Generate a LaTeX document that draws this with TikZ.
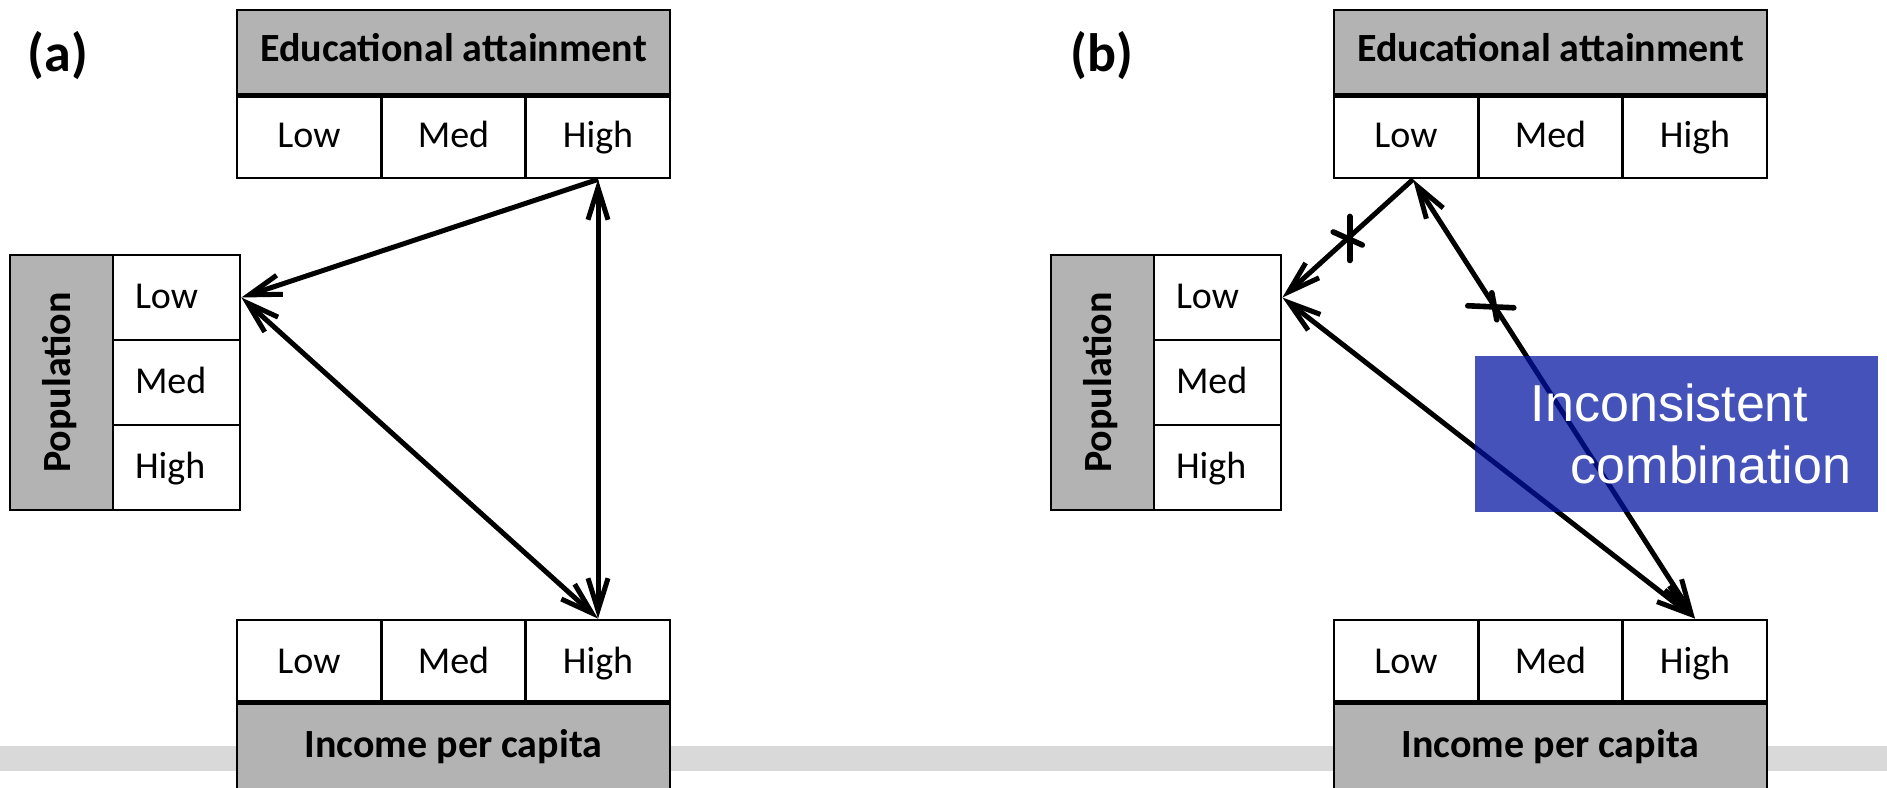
\documentclass[tikz,border=0pt]{standalone}
\usepackage{fontspec}
\setmainfont{Carlito}
\newfontfamily\boxfont{Liberation Sans}
\usetikzlibrary{arrows.meta}

\definecolor{headgray}{RGB}{179,179,179}
\definecolor{bargray}{RGB}{217,217,217}
\definecolor{boxblue}{RGB}{0,18,160}

\begin{document}
\begin{tikzpicture}[x=0.5pt, y=-0.5pt,
    >={Straight Barb[length=16pt,width=10pt]},
    cell/.style={draw, line width=1.4pt, fill=white, minimum width=72pt, minimum height=42pt,
        inner sep=0pt, text height=15pt, text depth=4pt, font=\fontsize{19}{22}\selectfont},
    head/.style={cell, fill=headgray, minimum width=216.5pt, text height=14pt, text depth=5pt,
        font=\fontsize{20}{24}\selectfont\bfseries},
    popcell/.style={cell, minimum width=63.5pt, minimum height=42.5pt, text width=41.5pt,
        inner xsep=11pt, align=left},
    pophead/.style={cell, fill=headgray, rotate=90, minimum width=127.5pt, minimum height=51.5pt,
        text height=14pt, text depth=5pt, font=\fontsize{20}{24}\selectfont\bfseries},
    sep/.style={line width=2.8pt},
    conn/.style={line width=2.5pt},
    tick/.style={line width=2.8pt, line cap=round},
    panel/.style={font=\fontsize{27}{30}\selectfont\bfseries},
    note/.style={fill=boxblue, fill opacity=0.73, text opacity=1, text=white, align=left,
        minimum width=201.5pt, minimum height=78pt, inner sep=0pt,
        font=\boxfont\fontsize{26}{31}\selectfont}]
    \clip (0,0) rectangle (1887,788);
    \fill[bargray] (0,746) rectangle (1887,771);

    % (a)
    \node[panel] (labA) at (58,56) {(a)};
    \node[head] (aEdu) at (453.5,52) {Educational attainment};
    \node[cell] (aEduLow) at (309,136) {Low};
    \node[cell] (aEduMed) at (453.5,136) {Med};
    \node[cell] (aEduHigh) at (598,136) {High};
    \draw[sep] (aEdu.south west) -- (aEdu.south east);

    \node[pophead] (aPop) at (61.5,382.5) {Population};
    \node[popcell] (aPopLow) at (176.5,297.5) {Low};
    \node[popcell] (aPopMed) at (176.5,382.5) {Med};
    \node[popcell] (aPopHigh) at (176.5,467.5) {High};

    \node[cell] (aIncLow) at (309,662) {Low};
    \node[cell] (aIncMed) at (453.5,662) {Med};
    \node[cell] (aIncHigh) at (598,662) {High};
    \node[head, minimum height=44pt] (aInc) at (453.5,748) {Income per capita};
    \draw[sep] (aInc.north west) -- (aInc.north east);

    \draw[conn, ->] (aEduHigh.south) -- (aPopLow.east);
    \draw[conn, <->] (aEduHigh.south) -- (aIncHigh.north);
    \draw[conn, <->] (aPopLow.east) -- (aIncHigh.north);

    % (b)
    \node[panel] (labB) at (1102,56) {(b)};
    \node[head] (bEdu) at (1550.5,52) {Educational attainment};
    \node[cell] (bEduLow) at (1406,136) {Low};
    \node[cell] (bEduMed) at (1550.5,136) {Med};
    \node[cell] (bEduHigh) at (1695,136) {High};
    \draw[sep] (bEdu.south west) -- (bEdu.south east);

    \node[pophead] (bPop) at (1102.5,382.5) {Population};
    \node[popcell] (bPopLow) at (1217.5,297.5) {Low};
    \node[popcell] (bPopMed) at (1217.5,382.5) {Med};
    \node[popcell] (bPopHigh) at (1217.5,467.5) {High};

    \node[cell] (bIncLow) at (1406,662) {Low};
    \node[cell] (bIncMed) at (1550.5,662) {Med};
    \node[cell] (bIncHigh) at (1695,662) {High};
    \node[head, minimum height=44pt] (bInc) at (1550.5,748) {Income per capita};
    \draw[sep] (bInc.north west) -- (bInc.north east);

    \draw[conn, ->] ([xshift=3.5pt]bEduLow.south) -- coordinate[pos=0.5] (cutA) (bPopLow.east);
    \draw[conn, <->] ([xshift=3.5pt]bEduLow.south) -- coordinate[pos=0.29] (cutB) (bIncHigh.north);
    \draw[conn, <->] (bPopLow.east) -- (bIncHigh.north);
    \draw[tick] ([shift={(2,-22)}]cutA) -- ([shift={(2,22)}]cutA);
    \draw[tick] ([shift={(-14.5,-6.5)}]cutA) -- ([shift={(14.5,6.5)}]cutA);
    \draw[tick] ([shift={(-27,-1)}]cutB) -- ([shift={(19,1)}]cutB);
    \draw[tick] ([shift={(-3,-14)}]cutB) -- ([shift={(2,13)}]cutB);

    \node[note] (bNote) at (1676.5,434) {\hspace*{14.5pt}Inconsistent\\\hspace*{34.5pt}combination};
\end{tikzpicture}
\end{document}
